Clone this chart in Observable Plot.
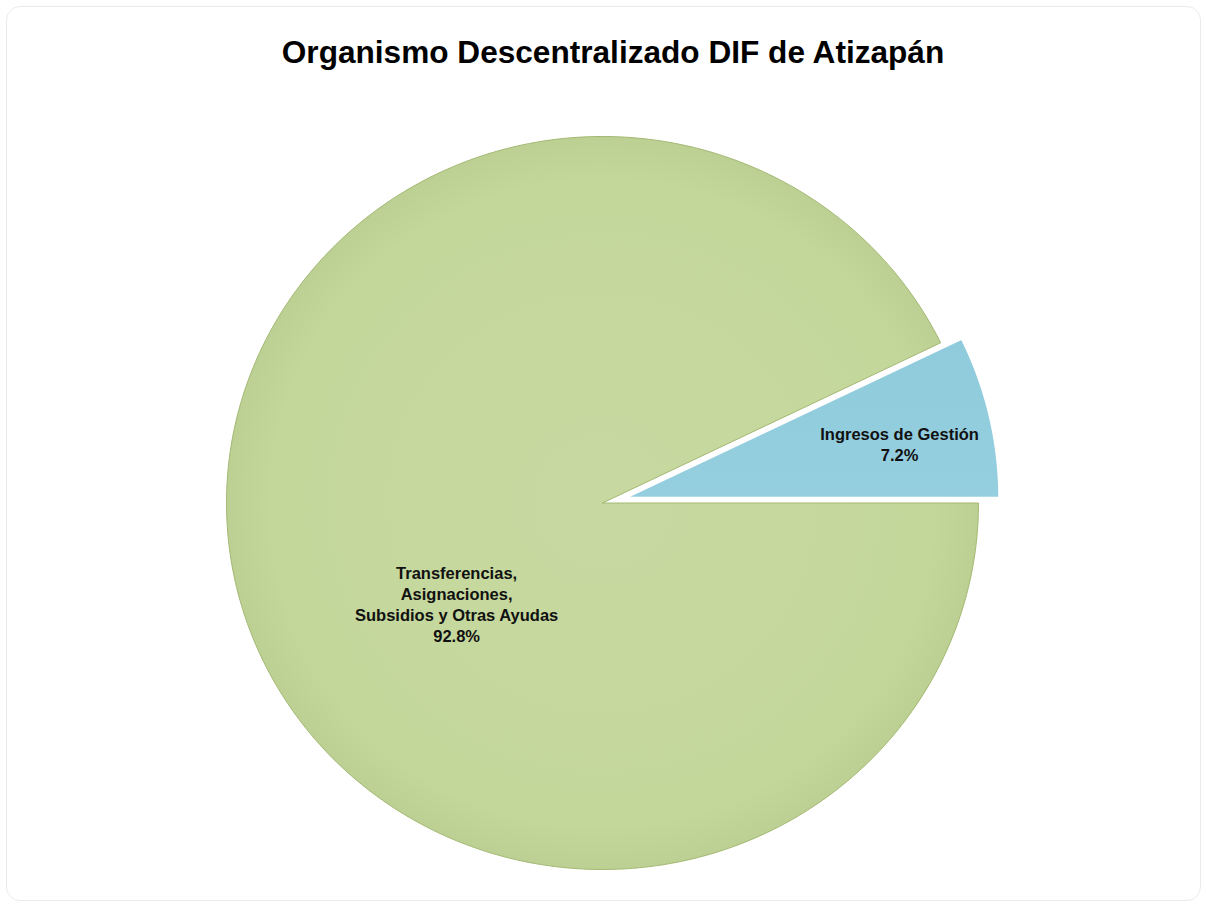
<!DOCTYPE html>
<html>
<head>
<meta charset="utf-8">
<script src="https://cdn.jsdelivr.net/npm/d3@7"></script>
<script src="https://cdn.jsdelivr.net/npm/@observablehq/plot@0.6"></script>
<style>
  html, body { margin: 0; padding: 0; background: #ffffff; }
  #wrap { position: relative; width: 1206px; height: 905px; overflow: hidden;
          font-family: "Liberation Sans", Arial, sans-serif; background: #fff; }
  #frame { position: absolute; left: 6px; top: 6px; right: 5px; bottom: 4px;
           border: 1px solid #ebebeb; border-radius: 14px; }
  #title { position: absolute; left: 0; width: 1226px; top: 34px; text-align: center;
           font-size: 31.6px; font-weight: bold; color: #000; line-height: 36px; }
  #chart { position: absolute; left: 0; top: 0; }
</style>
</head>
<body>
<div id="wrap">
  <div id="frame"></div>
  <div id="chart"></div>
  <div id="title">Organismo Descentralizado DIF de Atizapán</div>
</div>
<script>
// ---- data ----
const categories = ["Ingresos de Gestión", "Transferencias,\nAsignaciones,\nSubsidios y Otras Ayudas"];
const shares = [7.2, 92.8];
const shareLabels = ["7.2%", "92.8%"];
const sliceColors = ["url(#gBlue)", "url(#gGreen)"];
const sliceStrokes = ["#ffffff", "#a3b872"];
const sliceStrokeWidths = [3, 1];
const explode = [0.058, 0];
const labelRadius = [0.75, 0.42];
const labelDx = [1, 8];
const labelDy = [7, 66];

// ---- build slices (angles counter-clockwise from east) ----
const total = d3.sum(shares);
let start = 0;
const slices = shares.map((v, i) => {
  const a0 = start, a1 = start + v / total * 360;
  start = a1;
  const mid = (a0 + a1) / 2 * Math.PI / 180;
  const ox = explode[i] * Math.cos(mid), oy = explode[i] * Math.sin(mid);
  const pts = [{x: ox, y: oy}];
  const n = Math.max(4, Math.ceil((a1 - a0) / 0.5));
  for (let k = 0; k <= n; k++) {
    const a = (a0 + (a1 - a0) * k / n) * Math.PI / 180;
    pts.push({x: ox + Math.cos(a), y: oy + Math.sin(a)});
  }
  pts.push({x: ox, y: oy});
  return {
    pts,
    label: {
      text: categories[i] + "\n" + shareLabels[i],
      x: ox + labelRadius[i] * Math.cos(mid),
      y: oy + labelRadius[i] * Math.sin(mid),
      dx: labelDx[i], dy: labelDy[i]
    }
  };
});

const order = [1, 0]; // draw big slice first, exploded slice on top
const marks = [];
for (const i of order) {
  marks.push(Plot.line(slices[i].pts, {
    x: "x", y: "y", fill: sliceColors[i], stroke: sliceStrokes[i],
    strokeWidth: sliceStrokeWidths[i], strokeLinejoin: "round", curve: "linear"
  }));
}
for (const i of order) {
  const L = slices[i].label;
  marks.push(Plot.text([L], {
    x: "x", y: "y", text: "text", dx: L.dx, dy: L.dy,
    fontSize: 16.5, fontWeight: "bold", fill: "#111", lineHeight: 1.27,
    textAnchor: "middle", lineAnchor: "middle"
  }));
}

const chart = Plot.plot({
  width: 1206, height: 905,
  marginLeft: 226, marginRight: 228, marginTop: 136, marginBottom: 36,
  x: {domain: [-1, 1], axis: null},
  y: {domain: [-1, 1], axis: null},
  style: {background: "transparent", fontFamily: "'Liberation Sans', Arial, sans-serif"},
  marks
});

const svg = d3.select(chart);
const defs = svg.insert("defs", ":first-child");
const gg = defs.append("radialGradient").attr("id", "gGreen").attr("cx", "50%").attr("cy", "50%").attr("r", "50%");
gg.append("stop").attr("offset", "0%").attr("stop-color", "#c7d9a0");
gg.append("stop").attr("offset", "88%").attr("stop-color", "#c4d79b");
gg.append("stop").attr("offset", "100%").attr("stop-color", "#bcd093");
const gb = defs.append("linearGradient").attr("id", "gBlue").attr("x1", "0").attr("y1", "0").attr("x2", "0").attr("y2", "1");
gb.append("stop").attr("offset", "0%").attr("stop-color", "#8fcbdc");
gb.append("stop").attr("offset", "100%").attr("stop-color", "#95cfdf");

document.getElementById("chart").appendChild(chart);
</script>
</body>
</html>
